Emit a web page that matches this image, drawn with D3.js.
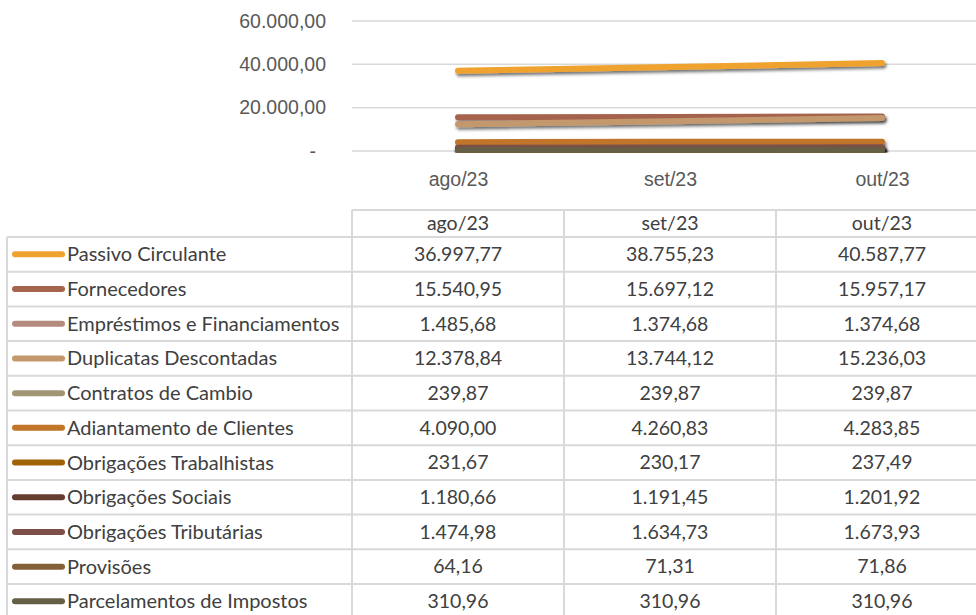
<!DOCTYPE html>
<html>
<head>
<meta charset="utf-8">
<script src="https://cdn.jsdelivr.net/npm/d3@7"></script>
<style>
  html, body { margin: 0; padding: 0; background: #fff; }
  svg { display: block; font-family: Lato, "Open Sans", sans-serif; }
</style>
</head>
<body>
<div id="chart"></div>
<script>
const months = ['ago/23', 'set/23', 'out/23'];
const seriesNames = [
  'Passivo Circulante', 'Fornecedores', 'Empréstimos e Financiamentos',
  'Duplicatas Descontadas', 'Contratos de Cambio', 'Adiantamento de Clientes',
  'Obrigações Trabalhistas', 'Obrigações Sociais', 'Obrigações Tributárias',
  'Provisões', 'Parcelamentos de Impostos'
];
const passivoCirculante = [36997.77, 38755.23, 40587.77];
const fornecedores = [15540.95, 15697.12, 15957.17];
const emprestimos = [1485.68, 1374.68, 1374.68];
const duplicatas = [12378.84, 13744.12, 15236.03];
const contratosCambio = [239.87, 239.87, 239.87];
const adiantamento = [4090.00, 4260.83, 4283.85];
const obrigTrabalhistas = [231.67, 230.17, 237.49];
const obrigSociais = [1180.66, 1191.45, 1201.92];
const obrigTributarias = [1474.98, 1634.73, 1673.93];
const provisoes = [64.16, 71.31, 71.86];
const parcelamentos = [310.96, 310.96, 310.96];
const yTicks = [0, 20000, 40000, 60000];
const colors = ['#F0A22E', '#A5644E', '#B58B80', '#C3986D', '#A19574', '#C17529',
                '#A06207', '#653D30', '#7C5046', '#83603A', '#655F45'];

const seriesValues = [passivoCirculante, fornecedores, emprestimos, duplicatas, contratosCambio,
  adiantamento, obrigTrabalhistas, obrigSociais, obrigTributarias, provisoes, parcelamentos];
const series = seriesNames.map((name, i) => ({name, values: seriesValues[i], color: colors[i]}));

const W = 976, H = 615;
const locale = d3.formatLocale({decimal: ',', thousands: '.', grouping: [3], currency: ['', '']});
const fmt = locale.format(',.2f');
const tickFmt = v => v === 0 ? '-' : fmt(v);

const svg = d3.select('#chart').append('svg').attr('width', W).attr('height', H);

// plot area lines up with the data table columns
const colEdges = [352, 564, 776, 988];
const x = d3.scalePoint().domain(months).range([colEdges[0], colEdges[3]]).padding(0.5);
const y = d3.scaleLinear().domain([0, 60000]).range([151, 21]);

const defs = svg.append('defs');
const f = defs.append('filter').attr('id', 'shadow').attr('filterUnits', 'userSpaceOnUse')
  .attr('x', 340).attr('y', 0).attr('width', 640).attr('height', 170);
f.append('feDropShadow').attr('dx', 1.5).attr('dy', 2.5).attr('stdDeviation', 1.6)
  .attr('flood-color', '#000').attr('flood-opacity', 0.55);
defs.append('clipPath').attr('id', 'plotclip').append('rect')
  .attr('x', colEdges[0]).attr('y', 0).attr('width', W - colEdges[0]).attr('height', 152.5);

// gridlines
svg.append('g').selectAll('line').data(yTicks).join('line')
  .attr('x1', colEdges[0]).attr('x2', W)
  .attr('y1', d => y(d)).attr('y2', d => y(d))
  .attr('stroke', '#d9d9d9').attr('stroke-width', 1.5);

const yAxis = svg.append('g').attr('transform', `translate(${colEdges[0]},0)`)
  .call(d3.axisLeft(y).tickValues(yTicks).tickSize(0).tickPadding(26).tickFormat(tickFmt));
yAxis.select('.domain').remove();
yAxis.selectAll('text').attr('font-size', 19.5).attr('fill', '#595959')
  .filter(d => d === 0).attr('x', -36);

const xAxis = svg.append('g').attr('transform', 'translate(0,151)')
  .call(d3.axisBottom(x).tickSize(0).tickPadding(21));
xAxis.select('.domain').remove();
xAxis.selectAll('text').attr('font-size', 19.5).attr('fill', '#595959');

// lines
const line = d3.line().x((d, i) => x(months[i])).y(d => y(d));
svg.append('g').attr('clip-path', 'url(#plotclip)')
  .selectAll('path').data(series).join('path')
  .attr('d', d => line(d.values))
  .attr('fill', 'none')
  .attr('stroke', d => d.color)
  .attr('stroke-width', 6)
  .attr('stroke-linecap', 'round')
  .attr('filter', 'url(#shadow)');

// data table
const tableTop = 237, rowH = 34.7, headTop = 210;
const tbl = svg.append('g');
const grid = '#d9d9d9';

tbl.append('line').attr('x1', colEdges[0]).attr('x2', W).attr('y1', headTop).attr('y2', headTop)
  .attr('stroke', grid).attr('stroke-width', 2);
d3.range(seriesNames.length + 1).forEach(i => {
  tbl.append('line').attr('x1', 7).attr('x2', W)
    .attr('y1', tableTop + i * rowH).attr('y2', tableTop + i * rowH)
    .attr('stroke', grid).attr('stroke-width', 2);
});
tbl.append('line').attr('x1', 7).attr('x2', 7).attr('y1', tableTop).attr('y2', H)
  .attr('stroke', grid).attr('stroke-width', 2);
colEdges.forEach(cx => {
  tbl.append('line').attr('x1', cx).attr('x2', cx).attr('y1', headTop).attr('y2', H)
    .attr('stroke', grid).attr('stroke-width', 2);
});

tbl.selectAll('text.head').data(months).join('text').attr('class', 'head')
  .attr('x', d => x(d)).attr('y', headTop + 13.5)
  .attr('dy', '0.35em').attr('text-anchor', 'middle')
  .attr('font-size', 19.5).attr('fill', '#404040').text(d => d);

const rows = tbl.selectAll('g.row').data(series).join('g').attr('class', 'row')
  .attr('transform', (d, i) => `translate(0,${tableTop + i * rowH + rowH / 2})`);
rows.append('line').attr('x1', 15).attr('x2', 62).attr('y1', 0).attr('y2', 0)
  .attr('stroke', d => d.color).attr('stroke-width', 6).attr('stroke-linecap', 'round');
rows.append('text').attr('x', 67).attr('dy', '0.35em')
  .attr('font-size', 20).attr('fill', '#404040').text(d => d.name);
rows.selectAll('text.val').data(d => d.values).join('text').attr('class', 'val')
  .attr('x', (d, i) => x(months[i])).attr('dy', '0.35em').attr('text-anchor', 'middle')
  .attr('font-size', 19.5).attr('fill', '#404040').text(d => fmt(d));
</script>
</body>
</html>
